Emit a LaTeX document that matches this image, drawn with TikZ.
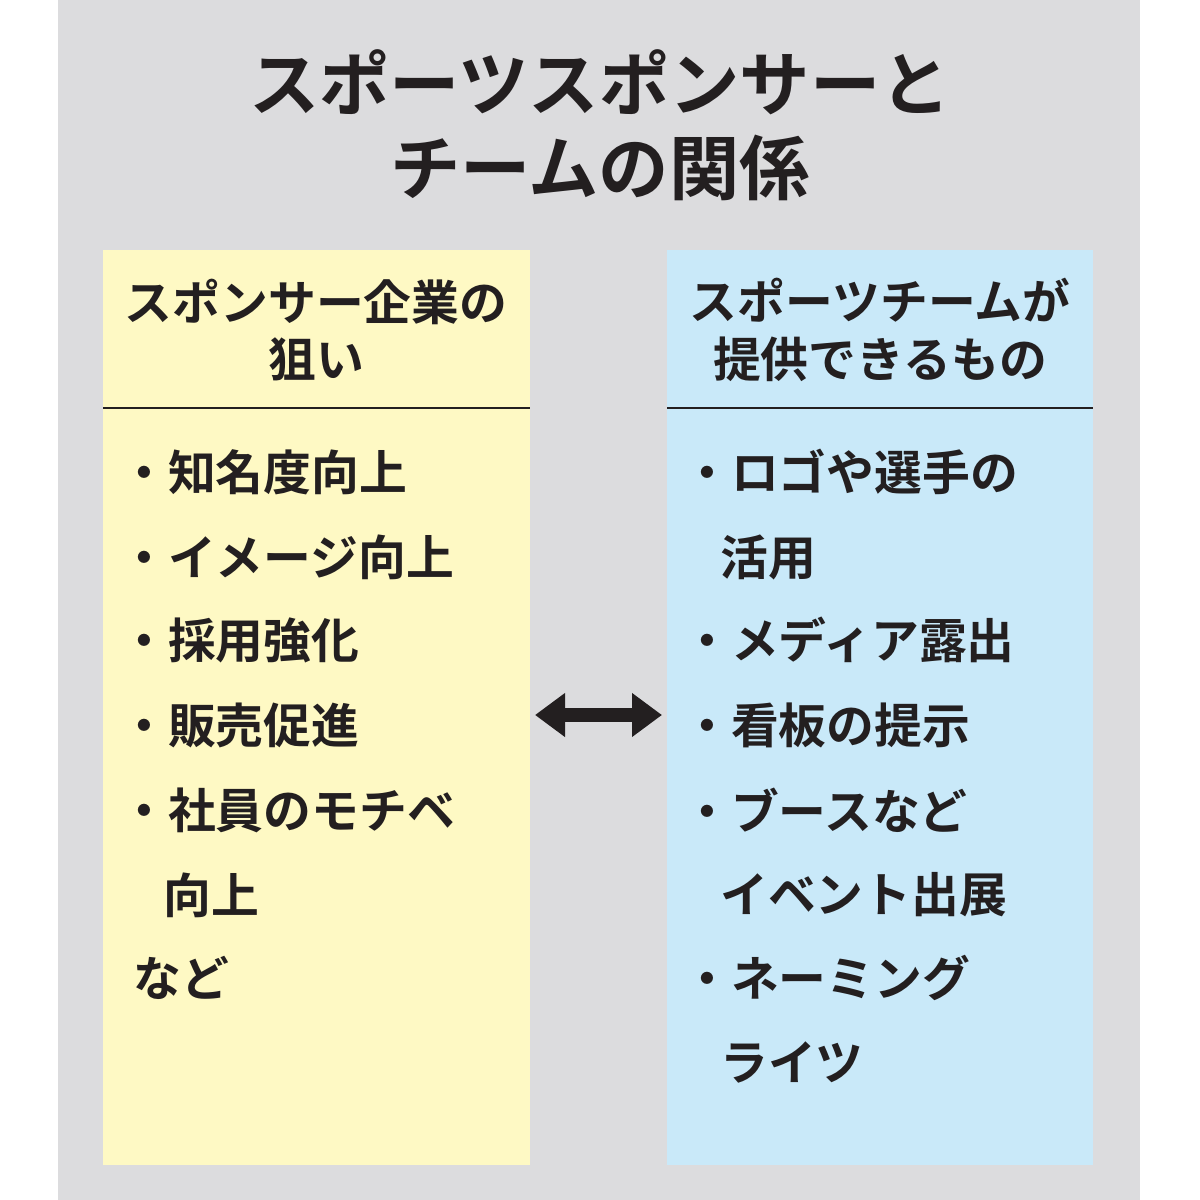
\documentclass[tikz,border=0pt]{standalone}
\usepackage{fontspec}
\newfontfamily\jp{Noto Sans CJK JP Bold}
\usetikzlibrary{arrows.meta}
\definecolor{bggray}{HTML}{DCDCDE}
\definecolor{ylw}{HTML}{FEF9C4}
\definecolor{blu}{HTML}{C9E9F9}
\definecolor{ink}{HTML}{231F20}
\tikzset{
 title/.style={font=\jp\fontsize{50}{60}\selectfont, text=ink, inner sep=0, align=center},
 head/.style={font=\jp\fontsize{34}{41}\selectfont, text=ink, inner sep=0, align=center},
 item/.style={font=\jp\fontsize{34}{41}\selectfont, text=ink, inner sep=0, anchor=west},
}
\begin{document}
\begin{tikzpicture}[x=0.025cm,y=-0.025cm]
\useasboundingbox (0,0) rectangle (1200,1200);
\fill[white] (0,0) rectangle (1200,1200);
\fill[bggray] (58,0) rectangle (1140,1200);
\node[title] (t1) at (600,82) {スポーツスポンサーと};
\node[title] (t2) at (600,168) {チームの関係};
\fill[ylw] (103,250) rectangle (530,1165);
\fill[blu] (667,250) rectangle (1093,1165);
\draw[ink, line width=1.5pt] (103,408) -- (530,408);
\draw[ink, line width=1.5pt] (667,408) -- (1093,408);
\node[head] (lh) at (316,330) {スポンサー企業の\\狙い};
\node[head] (rh) at (880,330) {スポーツチームが\\提供できるもの};
\node[item] (l1) at (120,472) {・知名度向上};
\node[item] (l2) at (120,557) {・イメージ向上};
\node[item] (l3) at (120,640) {・採用強化};
\node[item] (l4) at (120,725) {・販売促進};
\node[item] (l5) at (120,810) {・社員のモチベ};
\node[item] (l6) at (163,895) {向上};
\node[item] (l7) at (133,978) {など};
\node[item] (r1) at (683,472) {・ロゴや選手の};
\node[item] (r2) at (720,557) {活用};
\node[item] (r3) at (683,640) {・メディア露出};
\node[item] (r4) at (683,725) {・看板の提示};
\node[item] (r5) at (683,810) {・ブースなど};
\node[item] (r6) at (720,895) {イベント出展};
\node[item] (r7) at (683,978) {・ネーミング};
\node[item] (r8) at (720,1062) {ライツ};
\coordinate (aL) at (535,715);
\coordinate (aR) at (662,715);
\draw[ink, line width=0.33cm, {Triangle[length=0.75cm,width=1.05cm]}-{Triangle[length=0.75cm,width=1.05cm]}] (aL) -- (aR);
\end{tikzpicture}
\end{document}
